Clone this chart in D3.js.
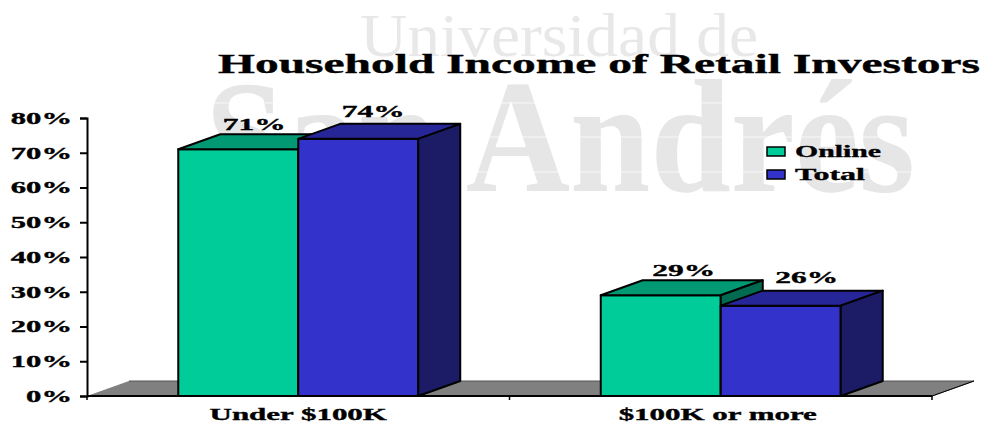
<!DOCTYPE html>
<html><head><meta charset="utf-8">
<script src="https://cdn.jsdelivr.net/npm/d3@7"></script>
<style>html,body{margin:0;padding:0;background:#fff}svg{display:block}text{font-family:"Liberation Serif",serif;font-weight:bold;fill:#000}.ink{stroke:#000;stroke-width:.35px}</style>
</head><body><svg id="c" width="982" height="423"></svg>
<script>
const title = "Household Income of Retail Investors";
const watermarkTop = "Universidad de";
const watermarkBottom = "San Andrés";
const categories = ["Under $100K", "$100K or more"];
const seriesNames = ["Online", "Total"];
const onlineValues = [71, 29];
const totalValues = [74, 26];
const yTicks = [0, 10, 20, 30, 40, 50, 60, 70, 80];
const seriesValues = [onlineValues, totalValues];

const front = ["#00CC99", "#3333CC"], top_ = ["#009973", "#262699"], side = ["#006B50", "#1B1B66"];
const labelShift = [[[16, -4], [15, -7]], [[23, -4], [26, -8]]];
const categoryShift = [0, -3];
const legendWidths = [86, 70];
const depthX = 42, depthY = 15;

const svg = d3.select("#c");
const y = d3.scaleLinear().domain([0, 80]).range([396, 118]);
const x0 = d3.scaleBand().domain(categories).range([87, 932]).paddingInner(0.432).paddingOuter(0.216);
const x1 = d3.scaleBand().domain(seriesNames).range([0, x0.bandwidth()]);

function fit(sel, factor) {
  sel.each(function () {
    this.setAttribute("textLength", this.getComputedTextLength() * factor);
    this.setAttribute("lengthAdjust", "spacingAndGlyphs");
  });
  return sel;
}
function width(sel, w) {
  sel.attr("textLength", w).attr("lengthAdjust", "spacingAndGlyphs");
  return sel;
}

// watermark
const wm = svg.append("g");
wm.append("text").attr("x", 360).attr("y", 56).attr("font-size", 62).style("fill", "#e8e8e8").style("font-weight", "normal").text(watermarkTop).call(width, 398);
wm.append("text").attr("x", 205).attr("y", 191).attr("font-size", 160).style("fill", "#e6e6e6").text(watermarkBottom).call(width, 710);
// the reference's faint scan lines through the watermark
[103, 137, 172].forEach(ly => wm.append("line").attr("x1", 200).attr("x2", 925).attr("y1", ly).attr("y2", ly).attr("stroke", "#fff").attr("stroke-width", 1).attr("stroke-opacity", 0.7));

// title
svg.append("text").attr("class", "ink").attr("x", 218).attr("y", 73).attr("font-size", 27).text(title).call(width, 762);

// floor
const floorPts = [[87, y(0)], [87 + depthX, y(0) - depthY], [932 + depthX, y(0) - depthY], [932, y(0)]];
svg.append("path").attr("d", d3.line()(floorPts) + "Z").attr("fill", "#808080");
svg.append("path").attr("d", d3.line()(floorPts.slice(1))).attr("fill", "none").attr("stroke", "#555").attr("stroke-width", 1);
svg.append("path").attr("d", d3.line()(floorPts.slice(2))).attr("fill", "none").attr("stroke", "#000").attr("stroke-width", 1);

// bars
categories.forEach((cat, ci) => {
  seriesNames.forEach((s, si) => {
    const v = seriesValues[si][ci];
    const l = x0(cat) + x1(s), r = l + x1.bandwidth(), t = y(v), b = y(0);
    const g = svg.append("g").attr("stroke", "#000").attr("stroke-width", 2).attr("stroke-linejoin", "round");
    g.append("path").attr("fill", front[si]).attr("d", d3.line()([[l, t], [r, t], [r, b], [l, b]]) + "Z");
    g.append("path").attr("fill", top_[si]).attr("d", d3.line()([[l, t], [l + depthX, t - depthY], [r + depthX, t - depthY], [r, t]]) + "Z");
    g.append("path").attr("fill", side[si]).attr("d", d3.line()([[r, t], [r + depthX, t - depthY], [r + depthX, b - depthY], [r, b]]) + "Z");
  });
});

// value labels
categories.forEach((cat, ci) => {
  seriesNames.forEach((s, si) => {
    const v = seriesValues[si][ci];
    const cx = x0(cat) + x1(s) + x1.bandwidth() / 2;
    const [dx, dy] = labelShift[ci][si];
    svg.append("text").attr("class", "ink").attr("x", cx + dx).attr("y", y(v) - depthY + dy).attr("text-anchor", "middle").attr("font-size", 17).text(v + "%").call(fit, 1.85);
  });
});

// y axis
const yAxis = svg.append("g").attr("transform", "translate(87,0)").call(d3.axisLeft(y).tickValues(yTicks).tickFormat(d => d + "%").tickSize(7).tickPadding(8));
yAxis.select(".domain").attr("stroke", "#000").attr("stroke-width", 2);
yAxis.selectAll("line").attr("stroke", "#000").attr("stroke-width", 2);
yAxis.selectAll("text").attr("class", "ink").attr("font-size", 17).style("font-family", '"Liberation Serif",serif').style("font-weight", "bold").attr("dy", "0.32em").call(fit, 1.8);

// x axis
const xAxis = svg.append("g").attr("transform", "translate(0,396)");
xAxis.append("line").attr("x1", 87).attr("x2", 932).attr("stroke", "#000").attr("stroke-width", 2);
[0, 1, 2].forEach(i => xAxis.append("line").attr("x1", 87 + i * x0.step()).attr("x2", 87 + i * x0.step()).attr("y1", 0).attr("y2", 4).attr("stroke", "#000").attr("stroke-width", 1.5));
categories.forEach((cat, i) => {
  svg.append("text").attr("class", "ink").attr("x", x0(cat) + x0.bandwidth() / 2 + categoryShift[i]).attr("y", 420).attr("text-anchor", "middle").attr("font-size", 17).text(cat).call(fit, 1.82);
});

// legend
seriesNames.forEach((s, i) => {
  const ly = 147 + i * 23;
  svg.append("rect").attr("x", 767).attr("y", ly).attr("width", 18).attr("height", 9).attr("fill", front[i]).attr("stroke", "#000").attr("stroke-width", 1.5);
  svg.append("text").attr("class", "ink").attr("x", 795).attr("y", ly + 10).attr("font-size", 17).text(s).call(width, legendWidths[i]);
});
</script></body></html>
